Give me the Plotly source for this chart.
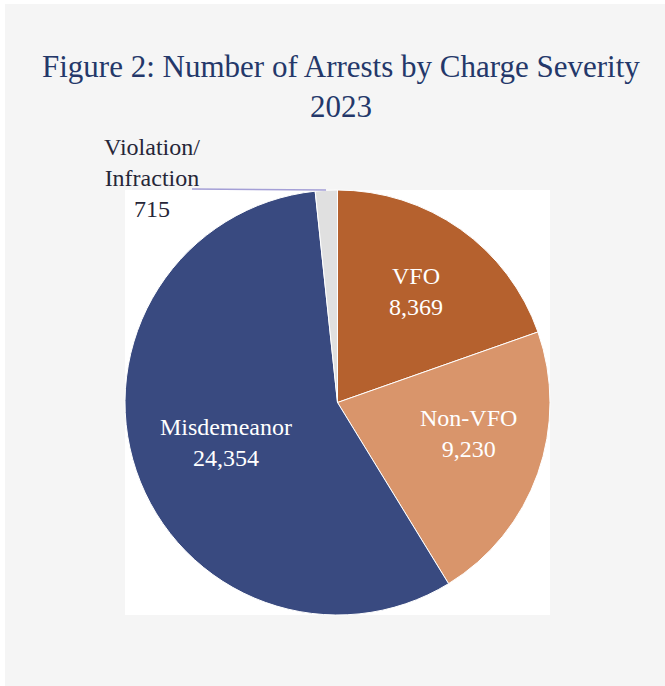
import plotly.graph_objects as go

categories = ["VFO", "Non-VFO", "Misdemeanor", "Violation/<br>Infraction"]
values = [8369, 9230, 24354, 715]
colors = ["#B5612E", "#D9956B", "#394A80", "#E0E0E0"]
title_text = "Figure 2: Number of Arrests by Charge Severity<br>2023"

W, H = 665, 686

def px(x):
    return x / W

def py(y):
    return 1 - y / H

fig = go.Figure()
fig.add_trace(go.Pie(
    labels=categories,
    values=values,
    sort=False,
    direction="clockwise",
    rotation=0,
    marker=dict(colors=colors, line=dict(color="white", width=1)),
    textinfo="none",
    hoverinfo="label+value",
    domain=dict(x=[px(125), px(550)], y=[py(615), py(190)]),
    showlegend=False,
))

font_family = "Liberation Serif, Times New Roman, serif"

shapes = [
    dict(type="rect", xref="paper", yref="paper", x0=px(5), x1=1.0, y0=0, y1=py(4),
         fillcolor="#F5F5F5", line=dict(width=0), layer="below"),
    dict(type="rect", xref="paper", yref="paper", x0=px(125), x1=px(550), y0=py(615), y1=py(190),
         fillcolor="#FFFFFF", line=dict(width=0), layer="below"),
    dict(type="line", xref="paper", yref="paper", x0=px(192), x1=px(326), y0=py(189), y1=py(190),
         line=dict(color="#A49FD6", width=1.5)),
]

def fmt(v):
    return f"{v:,}"

def ann(text, x, y, size, color):
    return dict(text=text, x=px(x), y=py(y), xref="paper", yref="paper", showarrow=False,
                xanchor="center", yanchor="middle", align="center",
                font=dict(family=font_family, size=size, color=color))

annotations = [
    ann(title_text, 341, 86, 31, "#24386A"),
    ann(f"{categories[0]}<br>{fmt(values[0])}", 416, 292, 24, "white"),
    ann(f"{categories[1]}<br>{fmt(values[1])}", 468, 433, 24, "white"),
    ann(f"{categories[2]}<br>{fmt(values[2])}", 226, 442, 24, "white"),
    ann(f"{categories[3]}<br>{fmt(values[3])}", 152, 178, 24, "#262638"),
]

fig.update_layout(
    width=W, height=H,
    margin=dict(l=0, r=0, t=0, b=0),
    paper_bgcolor="white",
    plot_bgcolor="white",
    shapes=shapes,
    annotations=annotations,
)

fig.write_html("out.html", config={"displayModeBar": False},
               post_script="document.body.style.margin='0';")
